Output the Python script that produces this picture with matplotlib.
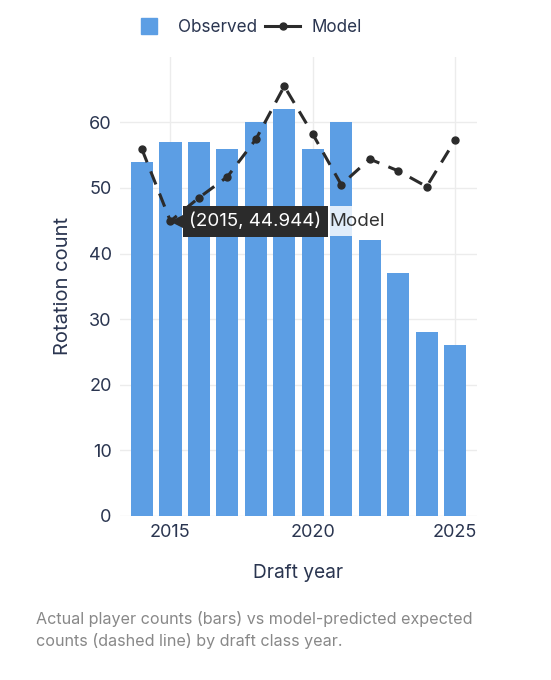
import matplotlib
matplotlib.use("Agg")
import matplotlib.pyplot as plt
from matplotlib.lines import Line2D
from matplotlib.transforms import offset_copy

plt.rcParams['font.family'] = ['Inter', 'DejaVu Sans']

# data
years = [2014, 2015, 2016, 2017, 2018, 2019, 2020, 2021, 2022, 2023, 2024, 2025]
observed = [54, 57, 57, 56, 60, 62, 56, 60, 42, 37, 28, 26]
model = [55.9, 44.944, 48.5, 51.7, 57.4, 65.5, 58.2, 50.5, 54.4, 52.6, 50.2, 57.3]
x_ticks = [2015, 2020, 2025]
y_ticks = [0, 10, 20, 30, 40, 50, 60]

bar_color = "#5c9ee4"
line_color = "#2b2b2b"
text_color = "#2a3550"

fig = plt.figure(figsize=(5.51, 6.8), dpi=100)
ax = fig.add_axes([0.2178, 0.2412, 0.648, 0.6754])

ax.bar(years, observed, width=0.78, color=bar_color, zorder=2)
ax.plot(years, model, color=line_color, lw=2.2, dashes=(4.6, 3.2),
        marker="o", markersize=5, zorder=3)

ax.set_xlim(2013.23, 2025.77)
ax.set_ylim(0, 70)
ax.set_xticks(x_ticks)
ax.set_yticks(y_ticks)
ax.grid(True, color="#ececec", lw=1, zorder=0)
ax.set_axisbelow(True)
for s in ax.spines.values():
    s.set_visible(False)
ax.tick_params(length=0, labelsize=13, labelcolor=text_color, pad=6)
ax.set_xlabel("Draft year", fontsize=13.8, color=text_color, labelpad=16)
ax.set_ylabel("Rotation count", fontsize=14.5, color=text_color, labelpad=12)

# hover tooltip on the 2015 model point
tip_x, tip_y = years[1], model[1]
ax.annotate("(2015, 44.944)", xy=(tip_x, tip_y), xytext=(19, 0),
            textcoords="offset pixels", ha="left", va="center",
            fontsize=13.5, color="white", zorder=10,
            bbox=dict(boxstyle="square,pad=0.36", fc="#2b2b2b", ec="none"))
tri = offset_copy(ax.transData, fig=fig, x=9, y=0, units="dots")
ax.plot(tip_x, tip_y, marker="<", markersize=11, color="#2b2b2b",
        transform=tri, zorder=10, clip_on=False)
ax.annotate("Model", xy=(tip_x, tip_y), xytext=(159, 0),
            textcoords="offset pixels", ha="left", va="center",
            fontsize=13.5, color="#333333", zorder=9,
            bbox=dict(boxstyle="square,pad=0.36", fc="white", ec="none", alpha=0.82))

handles = [Line2D([0], [0], ls="none", marker="s", markersize=12, color=bar_color),
           Line2D([0], [0], color=line_color, lw=2.2, marker="o", markersize=5)]
fig.legend(handles, ["Observed", "Model"], loc="center", bbox_to_anchor=(0.448, 0.96),
           ncol=2, frameon=False, fontsize=12.3, labelcolor=text_color,
           handlelength=2.0, handletextpad=0.7, columnspacing=0.5)

fig.text(0.065, 0.046, "Actual player counts (bars) vs model-predicted expected\n"
         "counts (dashed line) by draft class year.",
         fontsize=11.6, color="#888888", ha="left", va="bottom", linespacing=1.45)

fig.savefig("out.png", dpi=100)
